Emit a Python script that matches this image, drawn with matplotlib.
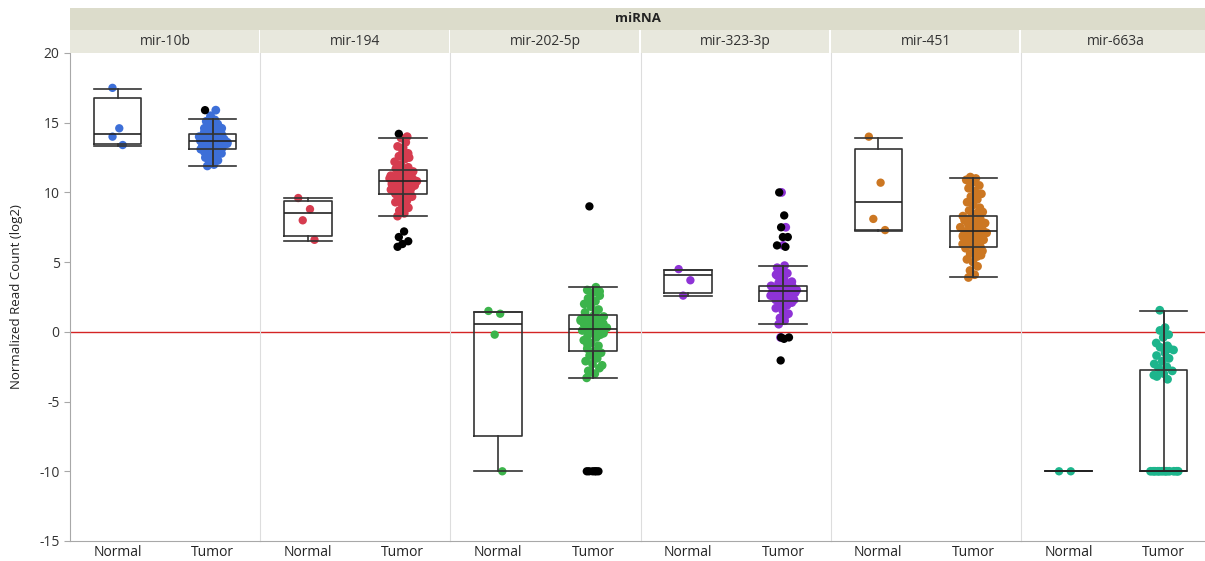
import matplotlib
matplotlib.use("Agg")
import matplotlib.pyplot as plt
from matplotlib.patches import Rectangle
import numpy as np

plt.rcParams['font.family'] = ['Open Sans', 'DejaVu Sans']
plt.rcParams['axes.unicode_minus'] = False

# ---- data ----
mirnas = ["mir-10b", "mir-194", "mir-202-5p", "mir-323-3p", "mir-451", "mir-663a"]
groups = ["Normal", "Tumor"]
colors = ["#3d6fd8", "#d63c4f", "#3cb44b", "#8e33d6", "#cc7722", "#1db58c"]

normal_points = [
    [17.5, 14.6, 14.0, 13.4],
    [9.6, 8.8, 8.0, 6.6],
    [1.5, 1.3, -0.2, -10.0],
    [4.5, 3.7, 2.6],
    [14.0, 10.7, 8.1, 7.3],
    [-10.0, -10.0],
]

tumor_points = [
    [11.9, 12.0, 12.2, 12.3, 12.4, 12.5, 12.6, 12.7, 12.8, 12.9, 12.9, 13.0, 13.0,
     13.1, 13.1, 13.2, 13.2, 13.3, 13.3, 13.4, 13.4, 13.5, 13.5, 13.5, 13.6, 13.6,
     13.7, 13.7, 13.7, 13.8, 13.8, 13.9, 13.9, 14.0, 14.0, 14.1, 14.1, 14.2, 14.2,
     14.3, 14.4, 14.5, 14.6, 14.7, 14.8, 14.9, 15.0, 15.1, 15.2, 15.3, 15.9,
     12.1, 12.9, 13.3, 13.5, 13.6, 13.8, 13.9, 14.0, 14.3, 14.6, 15.0, 15.5],
    [8.3, 8.5, 8.7, 8.9, 9.1, 9.3, 9.4, 9.6, 9.7, 9.8, 9.9, 10.0, 10.1, 10.2, 10.3,
     10.4, 10.5, 10.6, 10.6, 10.7, 10.8, 10.8, 10.9, 11.0, 11.0, 11.1, 11.2, 11.3,
     11.4, 11.5, 11.6, 11.7, 11.8, 12.0, 12.2, 12.4, 12.6, 12.8, 13.0, 13.3, 13.6,
     13.9, 14.0, 9.2, 9.9, 10.3, 10.7, 11.0, 11.3, 11.9, 12.5, 13.2],
    [-3.3, -3.0, -2.8, -2.6, -2.3, -2.1, -1.9, -1.7, -1.5, -1.4, -1.2, -1.0, -0.8,
     -0.6, -0.4, -0.3, -0.1, 0.0, 0.1, 0.2, 0.2, 0.3, 0.4, 0.5, 0.6, 0.7, 0.8, 0.9,
     1.0, 1.1, 1.2, 1.4, 1.6, 1.8, 2.0, 2.2, 2.4, 2.6, 2.8, 3.0, 3.2,
     -2.9, -2.4, -1.8, -0.9, -0.2, 0.4, 0.9, 1.5, 2.1, 2.9],
    [0.55, 0.8, 1.0, 1.3, 1.5, 1.7, 1.9, 2.0, 2.1, 2.2, 2.3, 2.4, 2.5, 2.6, 2.6,
     2.7, 2.8, 2.8, 2.9, 2.9, 3.0, 3.0, 3.1, 3.1, 3.2, 3.2, 3.3, 3.4, 3.5, 3.6,
     3.8, 4.0, 4.2, 4.4, 4.6, 4.75, 10.0, 7.5, 6.2, -0.4,
     1.2, 1.8, 2.3, 2.7, 3.0, 3.3, 3.7, 4.1],
    [3.9, 4.1, 4.4, 4.7, 5.0, 5.2, 5.4, 5.6, 5.8, 5.9, 6.0, 6.1, 6.2, 6.3, 6.4,
     6.5, 6.6, 6.7, 6.8, 6.9, 7.0, 7.1, 7.2, 7.2, 7.3, 7.4, 7.5, 7.6, 7.7, 7.8,
     7.9, 8.0, 8.1, 8.2, 8.3, 8.5, 8.7, 8.9, 9.1, 9.3, 9.5, 9.7, 9.9, 10.1, 10.3,
     10.5, 10.7, 10.9, 11.0, 11.1, 5.5, 6.4, 6.9, 7.4, 7.9, 8.6, 9.6, 10.8],
    [1.55, 0.3, 0.1, -0.2, -0.4, -0.8, -1.0, -1.1, -1.3, -1.5, -1.7, -1.9, -2.1,
     -2.3, -2.5, -2.6, -2.8, -3.0, -3.2, -3.4, -10.0, -10.0, -10.0, -10.0, -10.0,
     -10.0, -10.0, -10.0, -10.0, -10.0, -10.0, -10.0, -1.2, -2.9, -3.1],
]

# outliers highlighted in black (tumor groups)
tumor_outliers = [
    [15.9],
    [14.2, 7.2, 6.8, 6.5, 6.3, 6.1],
    [9.0, -10.0, -10.0, -10.0, -10.0, -10.0, -10.0],
    [10.0, 8.35, 7.5, 6.8, 6.8, 6.2, 6.1, -0.4, -0.4, -0.5, -2.05],
    [],
    [],
]

# box statistics: whisker low, q1, median, q3, whisker high
normal_box = [
    [13.35, 13.5, 14.2, 16.8, 17.45],
    [6.5, 6.9, 8.5, 9.4, 9.6],
    [-10.0, -7.5, 0.55, 1.4, 1.4],
    [2.6, 2.8, 4.1, 4.45, 4.45],
    [7.2, 7.3, 9.3, 13.1, 13.9],
    [-10.0, -10.0, -10.0, -10.0, -10.0],
]
tumor_box = [
    [11.9, 13.1, 13.7, 14.2, 15.3],
    [8.3, 9.9, 10.8, 11.6, 13.9],
    [-3.3, -1.4, 0.2, 1.2, 3.2],
    [0.55, 2.2, 2.9, 3.3, 4.75],
    [3.9, 6.1, 7.2, 8.3, 11.0],
    [-10.0, -10.0, -10.0, -2.7, 1.5],
]


def jitter(vals, base, maxw):
    vals = np.asarray(vals, dtype=float)
    n = len(vals)
    if n == 0:
        return vals
    dens = np.array([np.sum(np.abs(vals - v) < 0.6) for v in vals], dtype=float)
    w = 0.03 + maxw * dens / dens.max()
    frac = (np.arange(n) * 0.6180339887) % 1.0
    return base + w * (frac * 2 - 1)


W, H = 1205, 561
fig = plt.figure(figsize=(W / 100, H / 100), dpi=100)

x0, pw = 70, 190.2
y_top, y_bot = 53, 541
hdr1_top, hdr2_top = 8, 30

# header strips
fig.patches.append(Rectangle((x0 / W, 1 - hdr2_top / H), (pw * 6) / W,
                             (hdr2_top - hdr1_top) / H, transform=fig.transFigure,
                             facecolor="#dcdccb", edgecolor="none"))
fig.text((x0 + (W - x0) / 2) / W, 1 - (hdr1_top + hdr2_top) / 2 / H, "miRNA",
         ha="center", va="center", fontsize=9.5, fontweight="bold", color="#222222")

axes = []
for i, name in enumerate(mirnas):
    left = x0 + i * pw
    fig.patches.append(Rectangle((left / W, 1 - y_top / H), (pw - 1.5) / W,
                                 (y_top - hdr2_top) / H, transform=fig.transFigure,
                                 facecolor="#e8e8dd", edgecolor="none"))
    fig.text((left + pw / 2) / W, 1 - (hdr2_top + y_top) / 2 / H, name,
             ha="center", va="center", fontsize=10, color="#333333")

    ax = fig.add_axes([left / W, 1 - y_bot / H, pw / W, (y_bot - y_top) / H])
    axes.append(ax)
    c = colors[i]

    ax.axhline(0, color="#d42424", lw=1.0, zorder=1)

    # points
    xn = jitter(normal_points[i], 1, 0.07)
    ax.scatter(xn, normal_points[i], s=36, color=c, edgecolors="none", zorder=2)
    xt = jitter(tumor_points[i], 2, 0.13)
    ax.scatter(xt, tumor_points[i], s=40, color=c, edgecolors="none", zorder=2)
    if tumor_outliers[i]:
        xo = jitter(tumor_outliers[i], 2, 0.05)
        ax.scatter(xo, tumor_outliers[i], s=36, color="black", edgecolors="none", zorder=3)

    # boxes
    stats = []
    for b in [normal_box[i], tumor_box[i]]:
        stats.append(dict(whislo=b[0], q1=b[1], med=b[2], q3=b[3], whishi=b[4], fliers=[]))
    lp = dict(color="#333333", linewidth=1.2)
    ax.bxp(stats, positions=[1, 2], widths=0.5, showfliers=False,
           boxprops=lp, whiskerprops=lp, capprops=lp,
           medianprops=dict(color="#222222", linewidth=1.2), capwidths=0.5,
           manage_ticks=False, zorder=4)
    tb = tumor_box[i]
    ax.plot([2, 2], [tb[0], tb[4]], color="#333333", lw=1.2, zorder=4)

    ax.set_xlim(0.5, 2.5)
    ax.set_ylim(-15, 20)
    ax.set_xticks([1, 2])
    ax.set_xticklabels(groups, fontsize=10, color="#222222")
    ax.tick_params(axis="x", length=0, pad=3)
    for s in ["top", "right"]:
        ax.spines[s].set_visible(False)
    ax.spines["bottom"].set_color("#a8a8a8")
    ax.spines["left"].set_color("#a8a8a8" if i == 0 else "#dddddd")
    if i == 0:
        ax.set_yticks(np.arange(-15, 21, 5))
        ax.tick_params(axis="y", length=4, color="#a8a8a8", labelsize=10,
                       labelcolor="#333333")
        ax.set_ylabel("Normalized Read Count (log2)", fontsize=9.5, color="#222222",
                      labelpad=12)
    else:
        ax.tick_params(axis="y", left=False, labelleft=False)

fig.savefig("out.png", dpi=100)
